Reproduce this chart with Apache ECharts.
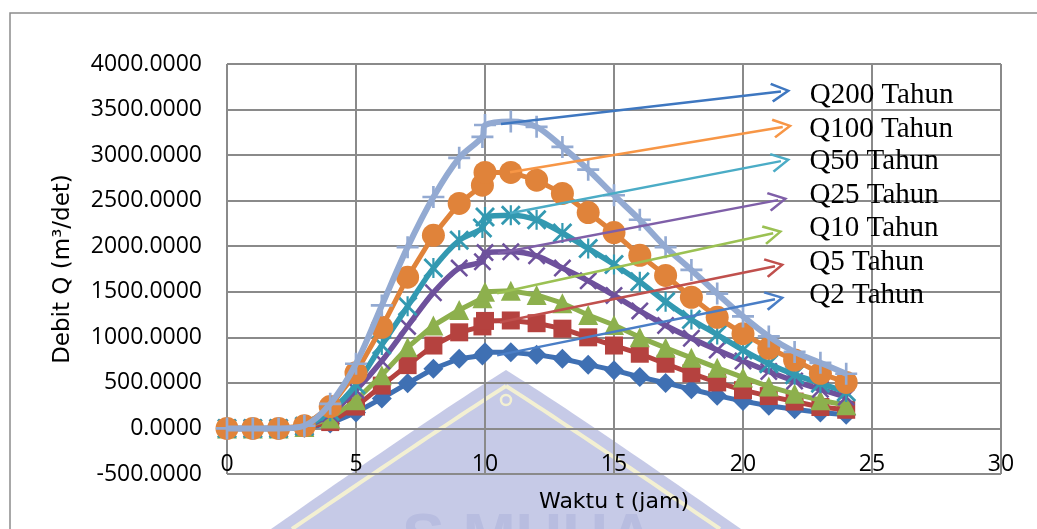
<!DOCTYPE html>
<html>
<head>
<meta charset="utf-8">
<script src="https://cdn.jsdelivr.net/npm/echarts@6/dist/echarts.min.js"></script>
<style>
  html, body { margin: 0; padding: 0; background: #ffffff; }
  #chart { width: 1037px; height: 529px; }
</style>
</head>
<body>
<div id="chart"></div>
<script>
// Time axis (jam); the peak time appears twice, once just before and once at t = 10
const hours = [0, 1, 2, 3, 4, 5, 6, 7, 8, 9, 9.9, 10, 11, 12, 13, 14, 15, 16, 17, 18, 19, 20, 21, 22, 23, 24];

// Design flood hydrographs, Q in m3/det
const q2   = [0, 0, 0, 8, 55, 175, 330, 495, 655, 765, 800, 835, 835, 810, 765, 700, 640, 565, 500, 430, 360, 300, 250, 210, 175, 150];
const q5   = [0, 0, 0, 10, 70, 240, 470, 695, 910, 1055, 1120, 1180, 1185, 1155, 1095, 1000, 910, 820, 710, 605, 505, 420, 355, 295, 235, 205];
const q10  = [0, 0, 0, 15, 110, 310, 585, 890, 1130, 1300, 1430, 1500, 1510, 1465, 1375, 1245, 1135, 1000, 885, 775, 665, 560, 460, 380, 310, 255];
const q25  = [0, 0, 0, 20, 160, 420, 740, 1120, 1490, 1760, 1830, 1930, 1940, 1895, 1760, 1620, 1460, 1290, 1130, 990, 860, 740, 625, 520, 430, 345];
const q50  = [0, 0, 0, 25, 190, 480, 915, 1340, 1760, 2065, 2200, 2320, 2340, 2290, 2145, 1975, 1800, 1610, 1390, 1195, 1030, 860, 710, 590, 495, 400];
const q100 = [0, 0, 0, 30, 240, 610, 1110, 1660, 2120, 2470, 2670, 2810, 2810, 2725, 2580, 2370, 2150, 1900, 1680, 1440, 1220, 1040, 880, 750, 605, 505];
const q200 = [0, 0, 0, 30, 270, 710, 1350, 1990, 2540, 2970, 3200, 3330, 3370, 3310, 3090, 2840, 2560, 2290, 1990, 1740, 1480, 1230, 1010, 840, 720, 600];

const seriesNames = ['Q2 Tahun', 'Q5 Tahun', 'Q10 Tahun', 'Q25 Tahun', 'Q50 Tahun', 'Q100 Tahun', 'Q200 Tahun'];
const seriesValues = [q2, q5, q10, q25, q50, q100, q200];

// Axis ticks
const xTicks = [0, 5, 10, 15, 20, 25, 30];
const yTicks = [-500, 0, 500, 1000, 1500, 2000, 2500, 3000, 3500, 4000];

// Marker shapes (drawn as thin filled outlines)
const PLUS  = 'path://M4.4,0H5.6V4.4H10V5.6H5.6V10H4.4V5.6H0V4.4H4.4Z';
const CROSS = 'path://M0,1L1,0L10,9L9,10ZM9,0L10,1L1,10L0,9Z';
const STAR  = 'path://M0,1L1,0L10,9L9,10ZM9,0L10,1L1,10L0,9ZM4.45,0H5.55V10H4.45Z';
// open arrow head, pointing up before the line rotates it
const CHEVRON = 'path://M5,0L10,9L8.9,9.7L5,2.5L1.1,9.7L0,9Z';

const styles = [
  { color: '#3F70B3', symbol: 'diamond',  size: 20, width: 5,   smooth: false },
  { color: '#B5423F', symbol: 'rect',     size: 18, width: 5,   smooth: false },
  { color: '#8DB04D', symbol: 'triangle', size: 20, width: 5,   smooth: false },
  { color: '#6E519C', symbol: CROSS,      size: 18, width: 5.5, smooth: 0.3 },
  { color: '#3399B1', symbol: STAR,       size: 20, width: 5.5, smooth: 0.3 },
  { color: '#E0833A', symbol: 'circle',   size: 23, width: 5,   smooth: false },
  { color: '#93AAD2', symbol: PLUS,       size: 22, width: 6,   smooth: 0.3 }
];

// Leader arrows pointing from each peak to its caption
const arrowColors = ['#4A7EC6', '#C0504D', '#9BC153', '#7F5FA8', '#4BACC6', '#F79646', '#3E77C0'];
const arrowFrom = [[10.47, 802], [10.58, 1165], [10.47, 1484], [10.5, 1923], [10.97, 2363], [10.97, 2813], [10.62, 3341]];
const arrowTo   = [[21.24, 1418], [21.24, 1780], [21.17, 2143], [21.36, 2506], [21.47, 2934], [21.54, 3308], [21.47, 3697]];
// caption offset from the arrow end: [along x, along y] (scaled by the arrow direction)
const captionGap = [[35, 21], [35, 19], [37, 24], [32, 23], [29, -4], [27, -14], [29, -31]];

const gridColor = '#8A8A8A';
const tickFont = 'Open Sans';

// sample a quadratic curve into polyline points (for the background emblem)
function quad(p0, c, p1, n) {
  const pts = [];
  for (let k = 0; k <= n; k++) {
    const t = k / n, u = 1 - t;
    pts.push([u * u * p0[0] + 2 * u * t * c[0] + t * t * p1[0],
              u * u * p0[1] + 2 * u * t * c[1] + t * t * p1[1]]);
  }
  return pts;
}
const domeLeft  = quad([506, 370], [432, 416], [271, 529], 24);
const domeRight = quad([741, 529], [580, 416], [506, 370], 24);
const innerLeft  = quad([506, 386], [440, 428], [292, 529], 24);
const innerRight = quad([506, 386], [572, 428], [720, 529], 24);

const lineSeries = seriesNames.map((name, i) => ({
  name: name,
  type: 'line',
  data: hours.map((h, k) => [h, seriesValues[i][k]]),
  symbol: styles[i].symbol,
  symbolSize: styles[i].size,
  smooth: styles[i].smooth,
  lineStyle: { color: styles[i].color, width: styles[i].width },
  itemStyle: { color: styles[i].color, opacity: 1 },
  z: 2 + i
}));

const arrowSeries = {
  type: 'lines',
  coordinateSystem: 'cartesian2d',
  z: 20,
  symbol: ['none', CHEVRON],
  symbolSize: [22, 20],
  lineStyle: { width: 2.5, opacity: 1, curveness: 0 },
  label: {
    show: true,
    position: 'end',
    formatter: '{b}',
    fontFamily: 'Liberation Serif',
    fontSize: 29,
    color: '#000000'
  },
  data: seriesNames.map((name, i) => ({
    name: name,
    coords: [arrowFrom[i], arrowTo[i]],
    lineStyle: { color: arrowColors[i] },
    label: { distance: captionGap[i] }
  }))
};

const chart = echarts.init(document.getElementById('chart'), null, { renderer: 'canvas' });

chart.setOption({
  animation: false,
  backgroundColor: '#ffffff',
  grid: { left: 227, right: 36, top: 64, bottom: 55, containLabel: false },
  xAxis: {
    type: 'value',
    min: xTicks[0],
    max: xTicks[xTicks.length - 1],
    interval: xTicks[1] - xTicks[0],
    axisLine: { show: false, onZero: false },
    axisTick: { show: false },
    splitLine: { show: true, lineStyle: { color: gridColor, width: 2 } },
    axisLabel: {
      inside: true,
      margin: -2,
      fontFamily: tickFont,
      fontSize: 23,
      color: '#000000'
    },
    name: 'Waktu t (jam)',
    nameLocation: 'middle',
    nameGap: 17,
    nameTextStyle: { fontFamily: 'DejaVu Sans', fontSize: 22, color: '#000000' }
  },
  yAxis: {
    type: 'value',
    min: yTicks[0],
    max: yTicks[yTicks.length - 1],
    interval: yTicks[1] - yTicks[0],
    axisLine: { show: false },
    axisTick: { show: false },
    splitLine: { show: true, lineStyle: { color: gridColor, width: 2 } },
    axisLabel: {
      margin: 25,
      fontFamily: tickFont,
      fontSize: 23,
      color: '#000000',
      formatter: v => v.toFixed(4)
    },
    name: 'Debit Q (m³/det)',
    nameLocation: 'middle',
    nameGap: 152,
    nameTextStyle: { fontFamily: 'DejaVu Sans', fontSize: 23, color: '#000000' }
  },
  graphic: [
    // page frame
    {
      type: 'rect', z: -20, silent: true,
      shape: { x: 10, y: 13, width: 1040, height: 540 },
      style: { fill: 'none', stroke: '#8C8C8C', lineWidth: 1.5 }
    },
    // faint emblem behind the plot
    {
      type: 'polygon', z: -10, silent: true,
      shape: { points: domeLeft.concat(domeRight) },
      style: { fill: '#C6CAE7', stroke: 'none' }
    },
    {
      type: 'polyline', z: -9, silent: true,
      shape: { points: innerLeft },
      style: { fill: 'none', stroke: '#F3F0D2', lineWidth: 4 }
    },
    {
      type: 'polyline', z: -9, silent: true,
      shape: { points: innerRight },
      style: { fill: 'none', stroke: '#F3F0D2', lineWidth: 4 }
    },
    {
      type: 'circle', z: -9, silent: true,
      shape: { cx: 506, cy: 400, r: 5 },
      style: { fill: 'none', stroke: '#F3F0D2', lineWidth: 2.5 }
    },
    {
      type: 'text', z: -9, silent: true,
      style: {
        x: 402, y: 509, text: 'S MUHA',
        font: 'bold 64px "Liberation Sans"',
        fill: '#B8BDE0'
      }
    }
  ],
  series: lineSeries.concat([arrowSeries])
});
</script>
</body>
</html>
